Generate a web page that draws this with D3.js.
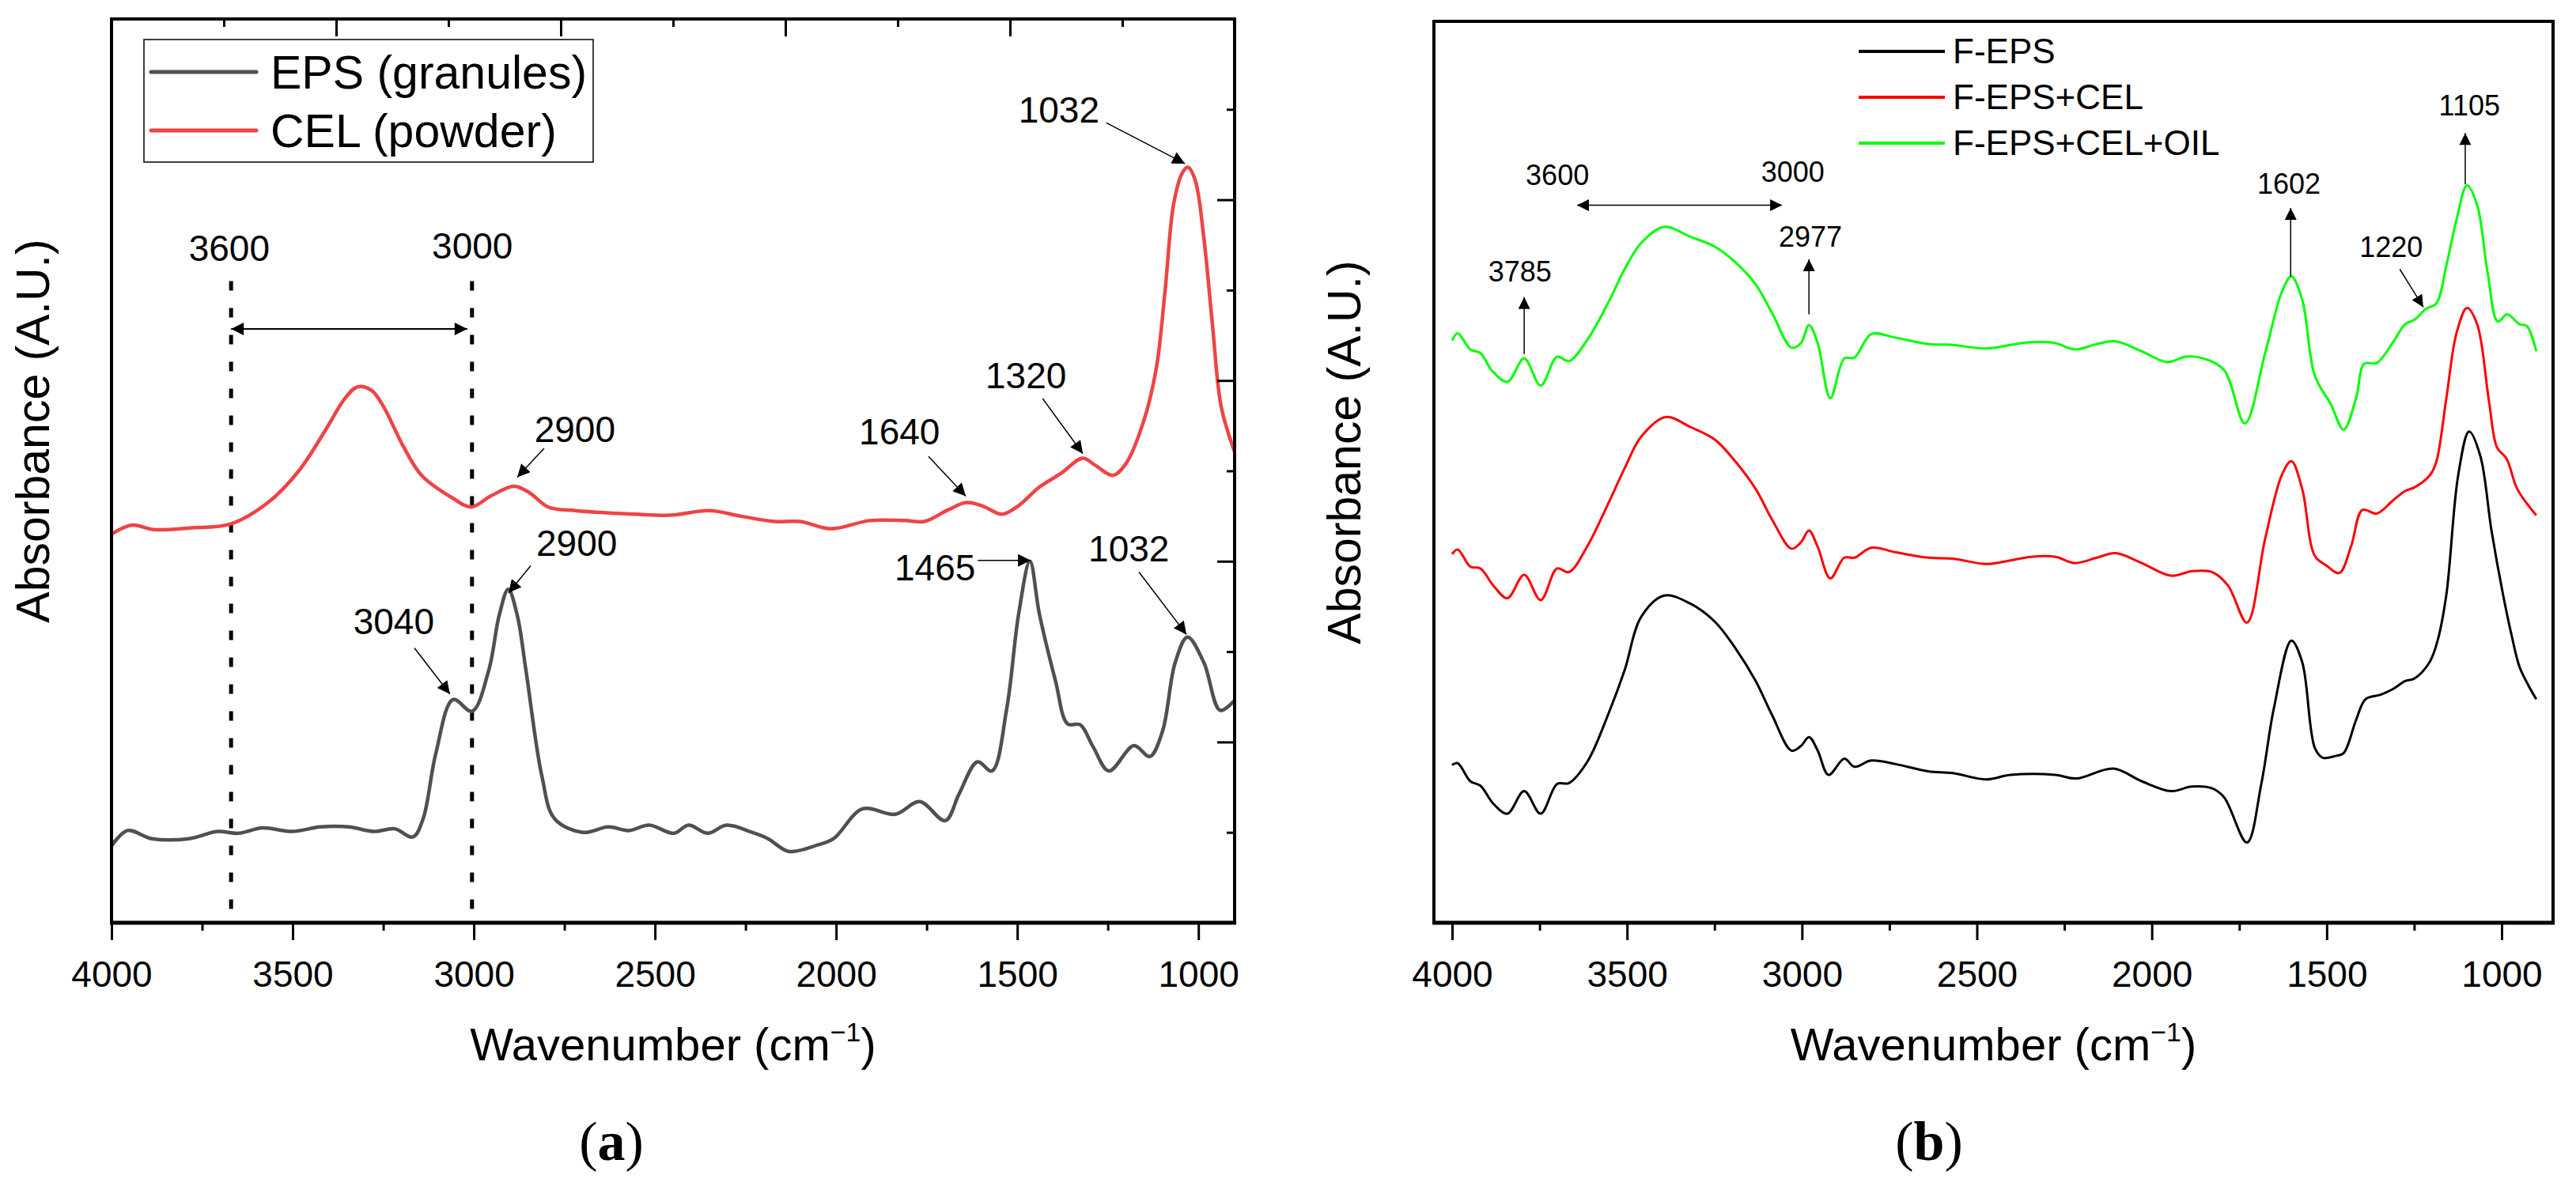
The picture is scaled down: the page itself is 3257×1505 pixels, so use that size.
<!DOCTYPE html>
<html>
<head>
<meta charset="utf-8">
<script src="https://cdn.jsdelivr.net/npm/d3@7"></script>
<style>
  body { margin: 0; background: #fff; }
  svg { display: block; font-family: "Liberation Sans", Arial, sans-serif; }
</style>
</head>
<body>
<svg id="chart" width="3257" height="1505"></svg>
<script>
// ---- data (wavenumber cm-1, absorbance a.u.) ----
const epsGranules = [
  [4000, 0.85], [3956, 1.02], [3889, 0.93], [3786, 0.93], [3707, 1.01], [3650, 0.99],
  [3583, 1.05], [3502, 1.01], [3424, 1.06], [3345, 1.06], [3275, 1.01], [3219, 1.04],
  [3168, 0.95], [3140, 1.15], [3105, 1.87], [3057, 2.47], [3005, 2.34], [2959, 2.79],
  [2930, 3.4], [2905, 3.69], [2880, 3.4], [2856, 2.79], [2812, 1.62], [2777, 1.15],
  [2699, 1.0], [2629, 1.06], [2572, 1.02], [2516, 1.08], [2448, 0.99], [2407, 1.08],
  [2354, 0.99], [2302, 1.08], [2232, 1.0], [2188, 0.93], [2131, 0.79], [2051, 0.86],
  [2007, 0.93], [1927, 1.26], [1837, 1.2], [1769, 1.34], [1699, 1.13], [1660, 1.43],
  [1610, 1.78], [1570, 1.68], [1529, 2.37], [1496, 3.42], [1465, 4.0], [1439, 3.42],
  [1394, 2.67], [1361, 2.2], [1326, 2.19], [1291, 1.95], [1247, 1.68], [1178, 1.96],
  [1134, 1.84], [1099, 2.12], [1064, 2.88], [1030, 3.16], [985, 2.88], [940, 2.35],
  [900, 2.46]
];

const celPowder = [
  [4000, 4.3], [3943, 4.4], [3884, 4.35], [3779, 4.37], [3673, 4.41], [3568, 4.65],
  [3483, 5.0], [3408, 5.46], [3356, 5.8], [3321, 5.93], [3282, 5.89], [3249, 5.71],
  [3197, 5.29], [3144, 4.95], [3059, 4.7], [3007, 4.6], [2954, 4.72], [2889, 4.83],
  [2847, 4.76], [2795, 4.6], [2721, 4.56], [2649, 4.54], [2553, 4.52], [2457, 4.51],
  [2350, 4.56], [2265, 4.5], [2171, 4.44], [2099, 4.44], [2014, 4.36], [1907, 4.45],
  [1811, 4.45], [1756, 4.44], [1690, 4.57], [1640, 4.65], [1595, 4.61], [1542, 4.52],
  [1498, 4.61], [1439, 4.82], [1380, 4.97], [1319, 5.14], [1284, 5.06], [1236, 4.95],
  [1200, 5.08], [1151, 5.55], [1116, 6.14], [1092, 6.99], [1068, 7.96], [1044, 8.3],
  [1029, 8.36], [1009, 8.22], [985, 7.58], [961, 6.61], [937, 5.71], [900, 5.21]
];

const fEps = [
  [4000, 1.75], [3984, 1.77], [3948, 1.57], [3919, 1.52], [3882, 1.32], [3842, 1.21],
  [3794, 1.46], [3747, 1.21], [3700, 1.54], [3666, 1.55], [3613, 1.79], [3555, 2.3],
  [3507, 2.8], [3460, 3.39], [3394, 3.63], [3319, 3.54], [3249, 3.34], [3191, 3.05],
  [3132, 2.68], [3085, 2.3], [3030, 1.91], [3003, 1.96], [2980, 2.06], [2955, 1.91],
  [2924, 1.64], [2879, 1.82], [2850, 1.73], [2802, 1.8], [2732, 1.76], [2639, 1.68],
  [2569, 1.66], [2474, 1.59], [2404, 1.64], [2275, 1.64], [2216, 1.6], [2110, 1.71],
  [2029, 1.57], [1945, 1.46], [1886, 1.51], [1827, 1.49], [1793, 1.39], [1728, 0.89],
  [1687, 1.54], [1651, 2.38], [1601, 3.13], [1570, 2.89], [1534, 1.94], [1511, 1.83],
  [1475, 1.85], [1452, 1.88], [1416, 2.25], [1389, 2.48], [1346, 2.53], [1312, 2.59],
  [1276, 2.68], [1249, 2.71], [1206, 2.89], [1183, 3.13], [1158, 3.64], [1124, 4.97],
  [1093, 5.45], [1061, 5.18], [1029, 4.35], [996, 3.64], [971, 3.18], [949, 2.84],
  [923, 2.63], [901, 2.48]
];

const fEpsCel = [
  [4000, 4.09], [3984, 4.14], [3948, 3.95], [3919, 3.93], [3882, 3.74], [3842, 3.6],
  [3794, 3.86], [3747, 3.58], [3700, 3.93], [3666, 3.89], [3613, 4.18], [3555, 4.64],
  [3507, 5.04], [3460, 5.39], [3390, 5.61], [3319, 5.5], [3249, 5.36], [3191, 5.12],
  [3132, 4.81], [3085, 4.47], [3030, 4.15], [3003, 4.22], [2980, 4.35], [2955, 4.17],
  [2919, 3.82], [2879, 4.05], [2850, 4.05], [2802, 4.16], [2732, 4.11], [2639, 4.05],
  [2569, 4.04], [2474, 3.98], [2404, 4.02], [2345, 4.06], [2275, 4.06], [2221, 3.99],
  [2157, 4.05], [2103, 4.1], [2029, 3.99], [1945, 3.85], [1886, 3.9], [1827, 3.89],
  [1782, 3.74], [1728, 3.33], [1676, 4.26], [1628, 4.97], [1601, 5.12], [1570, 4.81],
  [1534, 4.07], [1500, 3.96], [1464, 3.88], [1430, 4.18], [1398, 4.58], [1357, 4.54],
  [1312, 4.68], [1276, 4.79], [1249, 4.83], [1206, 4.96], [1187, 5.11], [1158, 5.82],
  [1129, 6.54], [1099, 6.82], [1070, 6.64], [1036, 5.78], [1013, 5.27], [986, 5.15],
  [955, 4.81], [901, 4.52]
];

const fEpsCelOil = [
  [4000, 6.46], [3984, 6.54], [3948, 6.36], [3919, 6.32], [3887, 6.13], [3842, 6.0],
  [3794, 6.26], [3747, 5.96], [3700, 6.28], [3666, 6.23], [3613, 6.47], [3555, 6.87],
  [3507, 7.25], [3460, 7.54], [3394, 7.72], [3319, 7.61], [3249, 7.5], [3191, 7.33],
  [3132, 7.08], [3085, 6.76], [3030, 6.38], [3003, 6.43], [2980, 6.63], [2955, 6.43],
  [2919, 5.82], [2879, 6.26], [2850, 6.27], [2802, 6.53], [2732, 6.49], [2639, 6.42],
  [2569, 6.41], [2474, 6.37], [2404, 6.41], [2345, 6.44], [2275, 6.43], [2221, 6.36],
  [2157, 6.42], [2103, 6.45], [2029, 6.34], [1956, 6.22], [1902, 6.28], [1852, 6.26],
  [1793, 6.13], [1734, 5.54], [1676, 6.32], [1628, 7.0], [1601, 7.17], [1570, 6.91],
  [1534, 6.07], [1488, 5.75], [1452, 5.47], [1416, 5.82], [1393, 6.2], [1357, 6.21],
  [1312, 6.43], [1276, 6.64], [1249, 6.69], [1217, 6.81], [1187, 6.87], [1158, 7.29],
  [1129, 7.8], [1099, 8.18], [1070, 7.96], [1040, 7.21], [1011, 6.67], [984, 6.75],
  [949, 6.64], [928, 6.62], [901, 6.34]
];

const seriesA = [
  { name: "EPS (granules)", values: epsGranules, color: "#505050" },
  { name: "CEL (powder)", values: celPowder, color: "#ef4444" }
];
const seriesB = [
  { name: "F-EPS", values: fEps, color: "#000000" },
  { name: "F-EPS+CEL", values: fEpsCel, color: "#ff0000" },
  { name: "F-EPS+CEL+OIL", values: fEpsCelOil, color: "#00ff00" }
];

const majorTicks = [4000, 3500, 3000, 2500, 2000, 1500, 1000];
const minorTicks = [3750, 3250, 2750, 2250, 1750, 1250];
const frameMajorTicks = [2, 4, 6, 8];
const frameMinorTicks = [1, 3, 5, 7, 9];

// peak labels: label at [wn, abs] (centre, baseline), arrow from -> to
const peakLabelsA = [
  { text: "1032", at: [1385, 8.85], from: [1254, 8.85], to: [1037, 8.4] },
  { text: "1320", at: [1476, 5.91], from: [1430, 5.8], to: [1319, 5.19] },
  { text: "1640", at: [1825, 5.29], from: [1745, 5.16], to: [1642, 4.72] },
  { text: "2900", at: [2721, 5.32], from: [2806, 5.25], to: [2880, 4.93] },
  { text: "2900", at: [2716, 4.06], from: [2843, 3.95], to: [2904, 3.65] },
  { text: "3040", at: [3221, 3.19], from: [3164, 3.04], to: [3066, 2.53] },
  { text: "1465", at: [1727, 3.79], from: [1609, 4.01], to: [1463, 4.01] },
  { text: "1032", at: [1192, 4.0], from: [1164, 3.88], to: [1033, 3.19] }
];
const rangeLinesA = [3670, 3005];
const rangeLabelsA = [
  { text: "3600", at: [3675, 7.32] },
  { text: "3000", at: [3004, 7.35] }
];
const rangeArrowA = { from: [3670, 6.57], to: [3018, 6.57], top: 7.1 };

const peakLabelsB = [
  { text: "3785", at: [3806, 7.11], from: [3794, 6.31], to: [3794, 6.94] },
  { text: "2977", at: [2976, 7.5], from: [2980, 6.75], to: [2980, 7.36] },
  { text: "1602", at: [1608, 8.09], from: [1603, 7.17], to: [1603, 7.93] },
  { text: "1220", at: [1316, 7.39], from: [1291, 7.25], to: [1224, 6.83] },
  { text: "1105", at: [1092, 8.96], from: [1104, 8.19], to: [1104, 8.76] }
];
const rangeLabelsB = [
  { text: "3600", at: [3699, 8.18] },
  { text: "3000", at: [3026, 8.22] }
];
const rangeArrowB = { from: [3643, 7.96], to: [3057, 7.96] };

// ---- drawing ----
const svg = d3.select("#chart");
svg.append("rect").attr("width", 3257).attr("height", 1505).attr("fill", "#fff");

const defs = svg.append("defs");
function addMarker(id, len, wid) {
  defs.append("marker")
    .attr("id", id)
    .attr("viewBox", "0 -5 10 10")
    .attr("refX", 10)
    .attr("refY", 0)
    .attr("markerUnits", "userSpaceOnUse")
    .attr("markerWidth", len)
    .attr("markerHeight", wid)
    .attr("orient", "auto-start-reverse")
    .append("path")
    .attr("d", "M0,-5L10,0L0,5Z")
    .attr("fill", "#000");
}
addMarker("arrow-a", 30, 16);
addMarker("arrow-b", 24, 15);

const boxA = { left: 141, right: 1561, top: 24, bottom: 1167 };
const boxB = { left: 1813, right: 3228, top: 27, bottom: 1167 };

const xA = d3.scaleLinear().domain([4000, 900]).range([boxA.left, boxA.right]);
const yA = d3.scaleLinear().domain([0, 10]).range([boxA.bottom, boxA.top]);
const xB = d3.scaleLinear().domain([4052, 853]).range([boxB.left, boxB.right]);
const yB = d3.scaleLinear().domain([0, 10]).range([boxB.bottom, boxB.top]);

function drawBottomAxis(x, box) {
  const g = svg.append("g").attr("transform", `translate(0,${box.bottom})`);
  g.append("g")
    .call(d3.axisBottom(x).tickValues(minorTicks).tickSize(10).tickFormat(""))
    .call((s) => s.select(".domain").remove())
    .call((s) => s.selectAll("line").attr("stroke-width", 3));
  g.append("g")
    .call(d3.axisBottom(x).tickValues(majorTicks).tickSize(22).tickPadding(26).tickFormat(d3.format("d")))
    .call((s) => s.select(".domain").remove())
    .call((s) => s.selectAll("line").attr("stroke-width", 3))
    .call((s) => s.selectAll("text")
      .attr("font-size", 46)
      .attr("font-family", "'Liberation Sans', Arial, sans-serif")
      .attr("fill", "#000"));
}

function drawFrame(box, bottomWidth) {
  svg.append("rect")
    .attr("x", box.left).attr("y", box.top)
    .attr("width", box.right - box.left).attr("height", box.bottom - box.top)
    .attr("fill", "none").attr("stroke", "#000").attr("stroke-width", 4);
  svg.append("line")
    .attr("x1", box.left - 2).attr("x2", box.right + 2)
    .attr("y1", box.bottom).attr("y2", box.bottom)
    .attr("stroke", "#000").attr("stroke-width", bottomWidth);
}

function drawTitles(box, cx, yTitleX, yTitleY, panelX, letter) {
  const xt = svg.append("text")
    .attr("x", cx).attr("y", 1341)
    .attr("text-anchor", "middle")
    .attr("font-size", 58);
  xt.append("tspan").text("Wavenumber (cm");
  xt.append("tspan").attr("font-size", 34).attr("dy", -24).text("\u22121");
  xt.append("tspan").attr("dy", 24).text(")");

  svg.append("text")
    .attr("transform", `translate(${yTitleX},${yTitleY}) rotate(-90)`)
    .attr("text-anchor", "middle")
    .attr("font-size", 59)
    .text("Absorbance (A.U.)");

  const pt = svg.append("text")
    .attr("x", panelX).attr("y", 1467)
    .attr("text-anchor", "middle")
    .attr("font-family", "'Liberation Serif', 'Times New Roman', serif")
    .attr("font-size", 70);
  pt.append("tspan").text("(");
  pt.append("tspan").attr("font-weight", "bold").text(letter);
  pt.append("tspan").text(")");
}

function clipFor(id, box) {
  defs.append("clipPath").attr("id", id)
    .append("rect")
    .attr("x", box.left).attr("y", box.top)
    .attr("width", box.right - box.left).attr("height", box.bottom - box.top);
}

function drawSeries(series, x, y, clipId, width) {
  const line = d3.line()
    .x((d) => x(d[0]))
    .y((d) => y(d[1]))
    .curve(d3.curveCatmullRom.alpha(0.5));
  svg.append("g")
    .attr("clip-path", `url(#${clipId})`)
    .selectAll("path")
    .data(series)
    .join("path")
    .attr("d", (d) => line(d.values))
    .attr("fill", "none")
    .attr("stroke", (d) => d.color)
    .attr("stroke-width", width)
    .attr("stroke-linejoin", "round");
}

function drawPeakLabels(labels, x, y, fontSize, markerId) {
  const g = svg.append("g");
  g.selectAll("line")
    .data(labels)
    .join("line")
    .attr("x1", (d) => x(d.from[0])).attr("y1", (d) => y(d.from[1]))
    .attr("x2", (d) => x(d.to[0])).attr("y2", (d) => y(d.to[1]))
    .attr("stroke", "#000").attr("stroke-width", 1.5)
    .attr("marker-end", `url(#${markerId})`);
  g.selectAll("text")
    .data(labels)
    .join("text")
    .attr("x", (d) => x(d.at[0])).attr("y", (d) => y(d.at[1]))
    .attr("text-anchor", "middle")
    .attr("font-size", fontSize)
    .text((d) => d.text);
}

// ---- panel (a) ----
clipFor("clip-a", boxA);

// dashed range lines
svg.append("g")
  .selectAll("line")
  .data(rangeLinesA)
  .join("line")
  .attr("x1", (d) => xA(d)).attr("x2", (d) => xA(d))
  .attr("y1", yA(rangeArrowA.top)).attr("y2", boxA.bottom)
  .attr("stroke", "#000").attr("stroke-width", 5)
  .attr("stroke-dasharray", "12,22");

svg.append("line")
  .attr("x1", xA(rangeArrowA.from[0])).attr("y1", yA(rangeArrowA.from[1]))
  .attr("x2", xA(rangeArrowA.to[0])).attr("y2", yA(rangeArrowA.to[1]))
  .attr("stroke", "#000").attr("stroke-width", 2)
  .attr("marker-start", "url(#arrow-a)")
  .attr("marker-end", "url(#arrow-a)");

drawSeries(seriesA, xA, yA, "clip-a", 4.5);

svg.append("g")
  .selectAll("text")
  .data(rangeLabelsA)
  .join("text")
  .attr("x", (d) => xA(d.at[0])).attr("y", (d) => yA(d.at[1]))
  .attr("text-anchor", "middle")
  .attr("font-size", 46)
  .text((d) => d.text);

drawPeakLabels(peakLabelsA, xA, yA, 46, "arrow-a");

// top and right frame ticks (10 equal divisions, pointing inward)
const frameXA = d3.scaleLinear().domain([0, 10]).range([boxA.left, boxA.right]);
[[frameMajorTicks, 22], [frameMinorTicks, 10]].forEach(([vals, size]) => {
  svg.append("g")
    .attr("transform", `translate(0,${boxA.top})`)
    .call(d3.axisBottom(frameXA).tickValues(vals).tickSize(size).tickFormat(""))
    .call((s) => s.select(".domain").remove())
    .call((s) => s.selectAll("line").attr("stroke-width", 3));
  svg.append("g")
    .attr("transform", `translate(${boxA.right},0)`)
    .call(d3.axisLeft(yA).tickValues(vals).tickSize(size).tickFormat(""))
    .call((s) => s.select(".domain").remove())
    .call((s) => s.selectAll("line").attr("stroke-width", 3));
});

drawFrame(boxA, 5);
drawBottomAxis(xA, boxA);

// legend (a)
const legA = svg.append("g");
legA.append("rect")
  .attr("x", 182).attr("y", 50).attr("width", 568).attr("height", 155)
  .attr("fill", "#fff").attr("stroke", "#000").attr("stroke-width", 1.5);
const legARows = legA.selectAll("g.row")
  .data(seriesA)
  .join("g")
  .attr("class", "row")
  .attr("transform", (d, i) => `translate(0,${91 + i * 74})`);
legARows.append("line")
  .attr("x1", 191).attr("x2", 324)
  .attr("stroke", (d) => d.color).attr("stroke-width", 5)
  .attr("stroke-linecap", "round");
legARows.append("text")
  .attr("x", 342).attr("dy", "0.35em")
  .attr("font-size", 59)
  .text((d) => d.name);

drawTitles(boxA, (boxA.left + boxA.right) / 2, 62, 545, 773, "a");

// ---- panel (b) ----
clipFor("clip-b", boxB);
drawSeries(seriesB, xB, yB, "clip-b", 3);

svg.append("line")
  .attr("x1", xB(rangeArrowB.from[0])).attr("y1", yB(rangeArrowB.from[1]))
  .attr("x2", xB(rangeArrowB.to[0])).attr("y2", yB(rangeArrowB.to[1]))
  .attr("stroke", "#000").attr("stroke-width", 1.5)
  .attr("marker-start", "url(#arrow-b)")
  .attr("marker-end", "url(#arrow-b)");

svg.append("g")
  .selectAll("text")
  .data(rangeLabelsB)
  .join("text")
  .attr("x", (d) => xB(d.at[0])).attr("y", (d) => yB(d.at[1]))
  .attr("text-anchor", "middle")
  .attr("font-size", 36)
  .text((d) => d.text);

drawPeakLabels(peakLabelsB, xB, yB, 36, "arrow-b");

drawFrame(boxB, 5);
drawBottomAxis(xB, boxB);

// legend (b)
const legBRows = svg.append("g")
  .selectAll("g")
  .data(seriesB)
  .join("g")
  .attr("transform", (d, i) => `translate(0,${65 + i * 58})`);
legBRows.append("line")
  .attr("x1", 2350).attr("x2", 2459)
  .attr("stroke", (d) => d.color).attr("stroke-width", 4);
legBRows.append("text")
  .attr("x", 2469).attr("dy", "0.35em")
  .attr("font-size", 44)
  .text((d) => d.name);

drawTitles(boxB, (boxB.left + boxB.right) / 2, 1720, 572, 2439, "b");
</script>
</body>
</html>
